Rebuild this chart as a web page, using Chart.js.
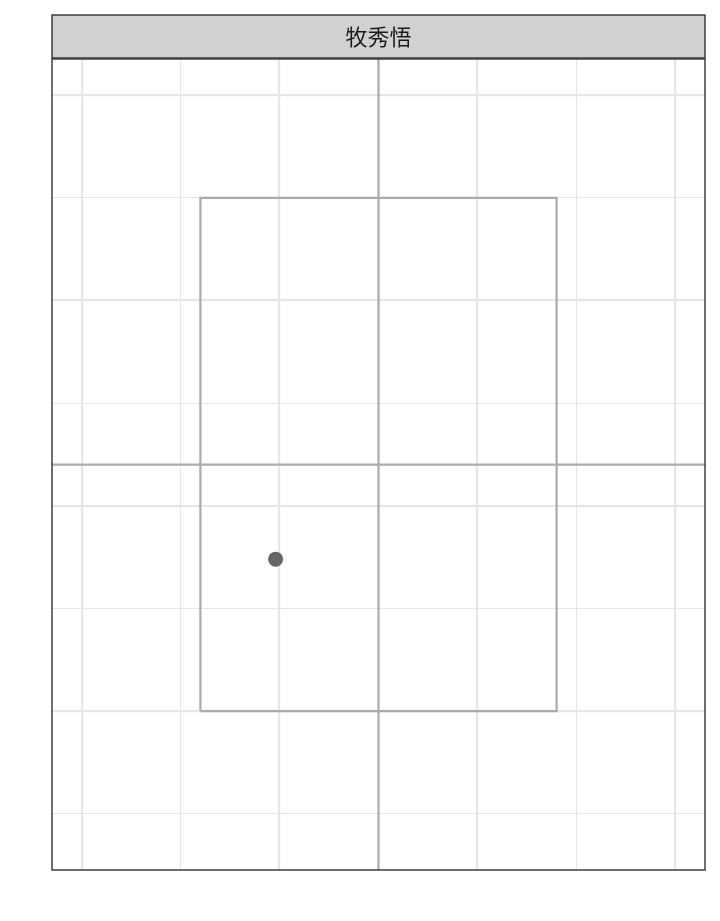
<!DOCTYPE html>
<html>
<head>
<meta charset="utf-8">
<script src="https://cdn.jsdelivr.net/npm/chart.js@4.4.1/dist/chart.umd.min.js"></script>
<style>
  html, body { margin: 0; padding: 0; background: #fff; }
  #wrap { width: 720px; height: 921px; }
</style>
</head>
<body>
<div id="wrap"><canvas id="zoneChart" width="720" height="921"></canvas></div>
<script>
// facet title
const facetTitle = '牧秀悟';

// axis ranges and grid breaks
const xRange = [-1.65, 1.65];
const yRange = [0.226, 4.176];
const xMajor = [-1.5, -0.5, 0.5, 1.5];
const xMinor = [-1, 0, 1];
const yMajor = [1, 2, 3, 4];
const yMinor = [0.5, 1.5, 2.5, 3.5];

// strike zone box and reference lines
const zoneX = [-0.9, 0.9];
const zoneY = [1.0, 3.5];
const refX = 0;
const refY = 2.2;

// pitch location
const pitchX = [-0.52];
const pitchY = [1.74];

const gridTicks = (major, minor) => scale => {
    scale.ticks = major.concat(minor).sort((a, b) => a - b).map(v => ({ value: v }));
};
const gridWidth = major => ctx => major.some(v => Math.abs(v - ctx.tick.value) < 1e-6) ? 2.2 : 1.1;

// strip + panel border
const facetStrip = {
    id: 'facetStrip',
    afterDraw(chart) {
        const { ctx, chartArea: a } = chart;
        ctx.save();
        ctx.fillStyle = '#d1d1d1';
        ctx.fillRect(a.left, 15, a.right - a.left, a.top - 16);
        ctx.strokeStyle = '#333333';
        ctx.lineWidth = 1.4;
        ctx.strokeRect(a.left, 15, a.right - a.left, a.top - 16);
        ctx.strokeRect(a.left, a.top, a.right - a.left, a.bottom - a.top);
        ctx.fillStyle = '#1a1a1a';
        ctx.font = '22px "Noto Sans CJK JP", "Noto Sans CJK SC", sans-serif';
        ctx.textAlign = 'center';
        ctx.textBaseline = 'middle';
        ctx.fillText(facetTitle, (a.left + a.right) / 2, (15 + a.top) / 2);
        ctx.restore();
    }
};

const boxPoints = [
    { x: zoneX[0], y: zoneY[0] }, { x: zoneX[1], y: zoneY[0] },
    { x: zoneX[1], y: zoneY[1] }, { x: zoneX[0], y: zoneY[1] },
    { x: zoneX[0], y: zoneY[0] }
];

const lineStyle = { showLine: true, borderColor: '#ababab', borderWidth: 2.2, pointRadius: 0, fill: false };

new Chart(document.getElementById('zoneChart'), {
    type: 'scatter',
    data: {
        datasets: [
            { ...lineStyle, data: [{ x: refX, y: yRange[0] }, { x: refX, y: yRange[1] }] },
            { ...lineStyle, data: [{ x: xRange[0], y: refY }, { x: xRange[1], y: refY }] },
            { ...lineStyle, data: boxPoints },
            {
                data: pitchX.map((x, i) => ({ x, y: pitchY[i] })),
                backgroundColor: '#666666', borderWidth: 0, pointRadius: 7.5
            }
        ]
    },
    options: {
        responsive: false,
        animation: false,
        layout: { padding: { left: 52, right: 15, top: 59, bottom: 51 } },
        plugins: { legend: { display: false }, tooltip: { enabled: false } },
        scales: {
            x: {
                min: xRange[0], max: xRange[1],
                afterBuildTicks: gridTicks(xMajor, xMinor),
                ticks: { display: false },
                border: { display: false },
                grid: { color: '#e6e6e6', lineWidth: gridWidth(xMajor), drawTicks: false }
            },
            y: {
                min: yRange[0], max: yRange[1],
                afterBuildTicks: gridTicks(yMajor, yMinor),
                ticks: { display: false },
                border: { display: false },
                grid: { color: '#e6e6e6', lineWidth: gridWidth(yMajor), drawTicks: false }
            }
        }
    },
    plugins: [facetStrip]
});
</script>
</body>
</html>
